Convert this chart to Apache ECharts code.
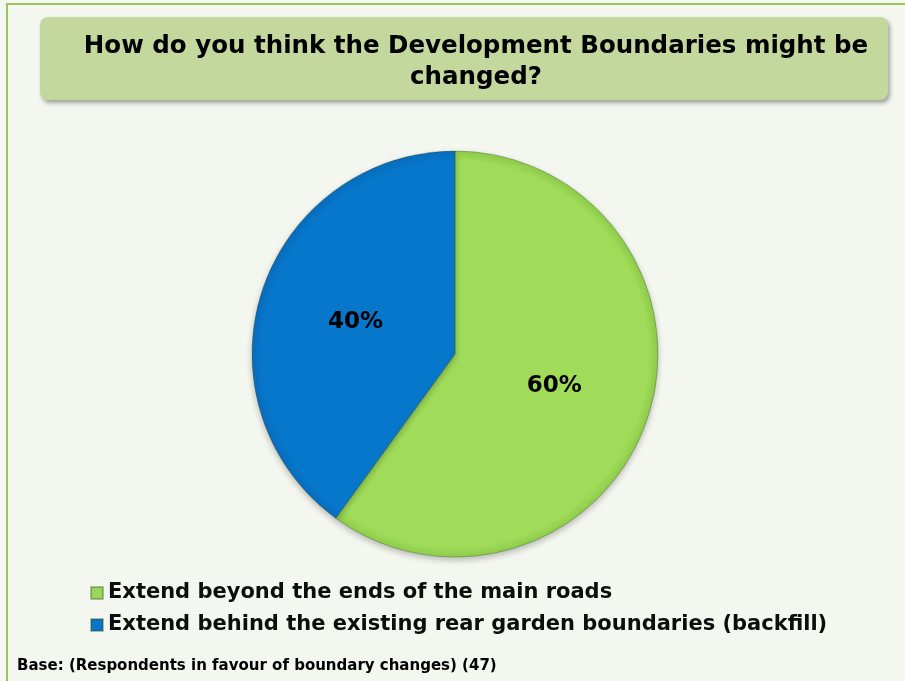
<!DOCTYPE html>
<html>
<head>
<meta charset="utf-8">
<script src="https://cdn.jsdelivr.net/npm/echarts@6/dist/echarts.min.js"></script>
<style>
html,body{margin:0;padding:0;background:#f4f7ef;}
#chart{width:905px;height:681px;}
</style>
</head>
<body>
<div id="chart"></div>
<script>
var titleText = 'How do you think the Development Boundaries might be\nchanged?';
var categories = ['Extend beyond the ends of the main roads', 'Extend behind the existing rear garden boundaries (backfill)'];
var values = [60, 40];
var baseNote = 'Base: (Respondents in favour of boundary changes) (47)';

var FONT = '"DejaVu Sans", Verdana, sans-serif';
var chart = echarts.init(document.getElementById('chart'), null, {renderer: 'canvas'});

var CX = 455, CY = 354, R = 203;
function radial(c0, c1) {
  return new echarts.graphic.RadialGradient(CX, CY, R, [
    {offset: 0, color: c0}, {offset: 0.95, color: c0}, {offset: 1, color: c1}
  ], true);
}
var colors = [radial('#a0dc5a', '#8fcc4b'), radial('#0677cb', '#0a6cbd')];
var iconColors = ['#9ad65a', '#0b76c9'];

chart.setOption({
  backgroundColor: '#f4f7ef',
  animation: false,
  title: {
    text: titleText,
    left: 471,
    top: 26,
    textAlign: 'center',
    textStyle: {fontFamily: FONT, fontSize: 24.5, fontWeight: 'bold', color: '#000', lineHeight: 31}
  },
  graphic: [
    {type: 'rect', z: -10, shape: {x: 7, y: 4, width: 920, height: 700},
     style: {fill: 'none', stroke: '#9cc45c', lineWidth: 2}},
    {type: 'rect', z: -5, shape: {x: 40, y: 17, width: 848, height: 83, r: 8},
     style: {fill: '#c4d89d', shadowBlur: 4, shadowOffsetX: 2, shadowOffsetY: 3, shadowColor: 'rgba(0,0,0,0.35)'}},
    {type: 'text', left: 17, top: 659,
     style: {text: baseNote, font: 'bold 15px ' + FONT, fill: '#000'}}
  ],
  legend: {
    orient: 'vertical',
    left: 85,
    top: 576,
    itemWidth: 12,
    itemHeight: 12,
    itemGap: 8,
    icon: 'rect',
    textStyle: {fontFamily: FONT, fontSize: 21, fontWeight: 'bold', color: '#0d0d0d', lineHeight: 24},
    data: categories.map(function (c, i) { return {name: c, itemStyle: {color: iconColors[i]}}; })
  },
  series: [{
    type: 'pie',
    center: [CX, CY],
    radius: [0, R],
    startAngle: 90,
    clockwise: true,
    avoidLabelOverlap: false,
    itemStyle: {borderColor: 'rgba(40,80,20,0.35)', borderWidth: 1,
      shadowBlur: 6, shadowOffsetY: 3, shadowColor: 'rgba(0,0,0,0.25)'},
    label: {show: true, position: 'inside', fontFamily: FONT, fontSize: 23, fontWeight: 'bold', color: '#000',
      formatter: function (p) { return p.value + '%'; }},
    labelLine: {show: false},
    emphasis: {disabled: true},
    data: categories.map(function (c, i) {
      return {name: c, value: values[i], itemStyle: {color: colors[i]}};
    })
  }]
});
</script>
</body>
</html>
